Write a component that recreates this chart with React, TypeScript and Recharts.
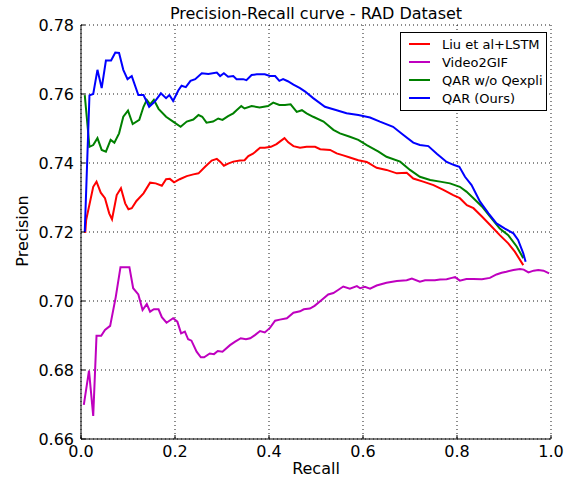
import { CartesianGrid, Line, LineChart, XAxis, YAxis } from "recharts";

// [recall, precision] pairs
const liuLstm: [number, number][] = [
  [0.009, 0.7197], [0.011, 0.7235], [0.026, 0.7331], [0.033, 0.7346], [0.042, 0.7314],
  [0.051, 0.7298], [0.06, 0.7254], [0.066, 0.7237], [0.076, 0.7307], [0.085, 0.7327],
  [0.094, 0.7283], [0.101, 0.7266], [0.108, 0.7269], [0.118, 0.729], [0.133, 0.7312],
  [0.147, 0.7343], [0.159, 0.7341], [0.172, 0.7334], [0.181, 0.7353], [0.189, 0.7354],
  [0.198, 0.7344], [0.21, 0.7353], [0.225, 0.7362], [0.239, 0.7367], [0.25, 0.737],
  [0.264, 0.7389], [0.278, 0.7407], [0.289, 0.7412], [0.296, 0.7404], [0.304, 0.7392],
  [0.313, 0.7398], [0.324, 0.7404], [0.338, 0.7407], [0.348, 0.7408], [0.356, 0.742],
  [0.366, 0.7427], [0.381, 0.7444], [0.391, 0.7444], [0.404, 0.7447], [0.416, 0.7455],
  [0.423, 0.7462], [0.433, 0.7472], [0.441, 0.746], [0.452, 0.7449], [0.466, 0.7444],
  [0.48, 0.7447], [0.498, 0.7447], [0.509, 0.744], [0.53, 0.7438], [0.544, 0.7428],
  [0.558, 0.7422], [0.572, 0.7416], [0.59, 0.7408], [0.608, 0.7403], [0.629, 0.7386],
  [0.65, 0.738], [0.672, 0.737], [0.693, 0.7372], [0.707, 0.7355], [0.728, 0.7346],
  [0.75, 0.7336], [0.771, 0.7322], [0.792, 0.7307], [0.806, 0.7298], [0.821, 0.7278],
  [0.835, 0.7269], [0.853, 0.7245], [0.87, 0.7221], [0.891, 0.7191], [0.909, 0.7167],
  [0.923, 0.7143], [0.941, 0.7104],
];

const video2gif: [number, number][] = [
  [0.006, 0.6699], [0.017, 0.6798], [0.026, 0.6667], [0.033, 0.6899], [0.043, 0.6899],
  [0.051, 0.6916], [0.062, 0.6928], [0.074, 0.7012], [0.084, 0.7098], [0.103, 0.7098],
  [0.111, 0.7037], [0.122, 0.7019], [0.131, 0.6974], [0.14, 0.6991], [0.147, 0.6969],
  [0.155, 0.6976], [0.165, 0.6976], [0.172, 0.6953], [0.182, 0.6937], [0.196, 0.695],
  [0.205, 0.694], [0.213, 0.6906], [0.221, 0.6911], [0.228, 0.6889], [0.235, 0.6885],
  [0.246, 0.6853], [0.255, 0.6837], [0.262, 0.6837], [0.274, 0.6848], [0.283, 0.6846],
  [0.291, 0.6855], [0.301, 0.6853], [0.317, 0.6872], [0.328, 0.6882], [0.34, 0.6892],
  [0.351, 0.6889], [0.36, 0.6892], [0.37, 0.6901], [0.381, 0.6913], [0.391, 0.6909],
  [0.402, 0.6922], [0.413, 0.6943], [0.423, 0.6946], [0.438, 0.695], [0.452, 0.6966],
  [0.466, 0.697], [0.474, 0.6976], [0.487, 0.6978], [0.497, 0.6986], [0.512, 0.7003],
  [0.526, 0.7019], [0.537, 0.7023], [0.547, 0.7032], [0.558, 0.7042], [0.572, 0.7036],
  [0.587, 0.7043], [0.594, 0.7037], [0.604, 0.7041], [0.615, 0.7036], [0.629, 0.7045],
  [0.65, 0.7053], [0.672, 0.7058], [0.693, 0.706], [0.704, 0.7065], [0.721, 0.7056],
  [0.732, 0.706], [0.753, 0.706], [0.764, 0.7062], [0.778, 0.7063], [0.789, 0.7067],
  [0.796, 0.7069], [0.806, 0.7059], [0.82, 0.7064], [0.835, 0.7064], [0.853, 0.7063],
  [0.87, 0.7067], [0.884, 0.7077], [0.895, 0.7082], [0.905, 0.7085], [0.92, 0.709],
  [0.934, 0.7093], [0.942, 0.7091], [0.952, 0.7083], [0.963, 0.7088], [0.973, 0.709],
  [0.984, 0.7088], [0.996, 0.708],
];

const qarNoQexpli: [number, number][] = [
  [0.008, 0.7597], [0.018, 0.7447], [0.026, 0.7452], [0.035, 0.7472], [0.044, 0.7438],
  [0.053, 0.7433], [0.063, 0.7467], [0.071, 0.7459], [0.081, 0.7486], [0.09, 0.7534],
  [0.1, 0.7552], [0.11, 0.7513], [0.124, 0.7525], [0.133, 0.7563], [0.14, 0.7583],
  [0.147, 0.757], [0.155, 0.7583], [0.165, 0.7557], [0.181, 0.7534], [0.196, 0.752],
  [0.212, 0.7505], [0.225, 0.752], [0.239, 0.7526], [0.25, 0.7539], [0.258, 0.7534],
  [0.267, 0.7517], [0.281, 0.752], [0.292, 0.7529], [0.301, 0.7525], [0.313, 0.7536],
  [0.324, 0.7544], [0.331, 0.7553], [0.341, 0.7565], [0.348, 0.7558], [0.363, 0.7565],
  [0.38, 0.7561], [0.398, 0.7565], [0.409, 0.7575], [0.422, 0.7568], [0.434, 0.7568],
  [0.446, 0.757], [0.459, 0.7548], [0.47, 0.7553], [0.48, 0.7544], [0.494, 0.7534],
  [0.516, 0.752], [0.537, 0.7496], [0.551, 0.7486], [0.572, 0.7476], [0.59, 0.7467],
  [0.608, 0.7452], [0.633, 0.7433], [0.65, 0.7418], [0.679, 0.7404], [0.7, 0.738],
  [0.721, 0.736], [0.743, 0.7351], [0.764, 0.7346], [0.785, 0.7341], [0.806, 0.7331],
  [0.82, 0.7317], [0.835, 0.7298], [0.853, 0.7274], [0.87, 0.7245], [0.891, 0.721],
  [0.909, 0.7191], [0.927, 0.7158], [0.941, 0.7124],
];

const qarOurs: [number, number][] = [
  [0.008, 0.72], [0.018, 0.7596], [0.026, 0.76], [0.035, 0.767], [0.044, 0.7617],
  [0.053, 0.7697], [0.064, 0.7697], [0.073, 0.772], [0.081, 0.7719], [0.09, 0.767],
  [0.099, 0.7643], [0.108, 0.7652], [0.122, 0.7597], [0.133, 0.7597], [0.145, 0.7563],
  [0.157, 0.7578], [0.17, 0.7602], [0.181, 0.7588], [0.188, 0.7597], [0.196, 0.758],
  [0.207, 0.761], [0.214, 0.7624], [0.223, 0.762], [0.233, 0.7638], [0.243, 0.7643],
  [0.257, 0.766], [0.271, 0.7658], [0.289, 0.7662], [0.296, 0.7652], [0.304, 0.766],
  [0.313, 0.765], [0.324, 0.7652], [0.331, 0.7643], [0.345, 0.7643], [0.352, 0.764],
  [0.363, 0.7655], [0.374, 0.7657], [0.391, 0.7657], [0.402, 0.7652], [0.413, 0.7652],
  [0.422, 0.7638], [0.43, 0.7643], [0.44, 0.7637], [0.452, 0.7627], [0.466, 0.7617],
  [0.477, 0.7607], [0.494, 0.7588], [0.519, 0.7563], [0.544, 0.7553], [0.565, 0.7544],
  [0.59, 0.7539], [0.615, 0.7532], [0.636, 0.752], [0.664, 0.7505], [0.686, 0.7481],
  [0.707, 0.7459], [0.721, 0.7452], [0.739, 0.7449], [0.757, 0.7427], [0.778, 0.7403],
  [0.794, 0.7394], [0.805, 0.7389], [0.817, 0.736], [0.831, 0.7336], [0.849, 0.7288],
  [0.867, 0.7254], [0.884, 0.7225], [0.902, 0.721], [0.92, 0.7196], [0.93, 0.7177],
  [0.941, 0.7138], [0.946, 0.7114],
];

const recallTicks = [0, 0.2, 0.4, 0.6, 0.8, 1.0];
const precisionTicks = [0.66, 0.68, 0.7, 0.72, 0.74, 0.76, 0.78];

const series = [
  { name: "Liu et al+LSTM", color: "#ff0000", points: liuLstm },
  { name: "Video2GIF", color: "#bf00bf", points: video2gif },
  { name: "QAR w/o Qexpli", color: "#008000", points: qarNoQexpli },
  { name: "QAR (Ours)", color: "#0000ff", points: qarOurs },
];

const FONT = "'DejaVu Sans', Verdana, sans-serif";
const tickStyle = { fontSize: 16, fill: "#000", fontFamily: FONT };

export default function App() {
  return (
    <div style={{ position: "absolute", left: 0, top: 0, width: 579, height: 479, background: "#fff", fontFamily: FONT }}>
      <LineChart width={579} height={479} margin={{ top: 25, right: 28, bottom: 0, left: 0 }}>
        <CartesianGrid stroke="#000" strokeWidth={1} strokeOpacity={0.9} strokeDasharray="1 3" />
        <XAxis
          type="number"
          dataKey="r"
          domain={[0, 1]}
          ticks={recallTicks}
          tickFormatter={(v: number) => v.toFixed(1)}
          height={40}
          tick={tickStyle}
          tickSize={-4}
          tickMargin={11}
          stroke="#000"
          allowDataOverflow
        />
        <XAxis xAxisId="top" orientation="top" type="number" domain={[0, 1]} ticks={recallTicks} height={0} tickSize={-4} tickFormatter={() => ""} stroke="#000" />
        <YAxis
          type="number"
          domain={[0.66, 0.78]}
          ticks={precisionTicks}
          tickFormatter={(v: number) => v.toFixed(2)}
          width={81}
          tick={tickStyle}
          tickSize={-4}
          tickMargin={11}
          stroke="#000"
          allowDataOverflow
        />
        <YAxis yAxisId="right" orientation="right" type="number" domain={[0.66, 0.78]} ticks={precisionTicks} width={0} tickSize={-4} tickFormatter={() => ""} stroke="#000" />
        {series.map((s) => (
          <Line
            key={s.name}
            data={s.points.map(([r, p]) => ({ r, p }))}
            dataKey="p"
            type="linear"
            stroke={s.color}
            strokeWidth={2}
            dot={false}
            activeDot={false}
            isAnimationActive={false}
          />
        ))}
      </LineChart>
      <div style={{ position: "absolute", left: 81, width: 470, top: 4, textAlign: "center", fontSize: 16, lineHeight: "20px", color: "#000" }}>
        Precision-Recall curve - RAD Dataset
      </div>
      <div style={{ position: "absolute", left: 81, width: 470, top: 459, textAlign: "center", fontSize: 16, lineHeight: "20px", color: "#000" }}>
        Recall
      </div>
      <div style={{ position: "absolute", left: 23, top: 231, width: 0, height: 0 }}>
        <div style={{ position: "absolute", left: -40, top: -10, width: 80, textAlign: "center", fontSize: 16, lineHeight: "20px", transform: "rotate(-90deg)", color: "#000" }}>
          Precision
        </div>
      </div>
      <div style={{ position: "absolute", left: 400, top: 32, width: 145, padding: "2px 0 3px 0", border: "1px solid #000", background: "#fff" }}>
        {series.map((s) => (
          <div key={s.name} style={{ display: "flex", alignItems: "center", height: 18, fontSize: 13, color: "#000" }}>
            <span style={{ display: "inline-block", marginLeft: 8, width: 21, height: 2, background: s.color }} />
            <span style={{ marginLeft: 12, whiteSpace: "nowrap" }}>{s.name}</span>
          </div>
        ))}
      </div>
    </div>
  );
}
